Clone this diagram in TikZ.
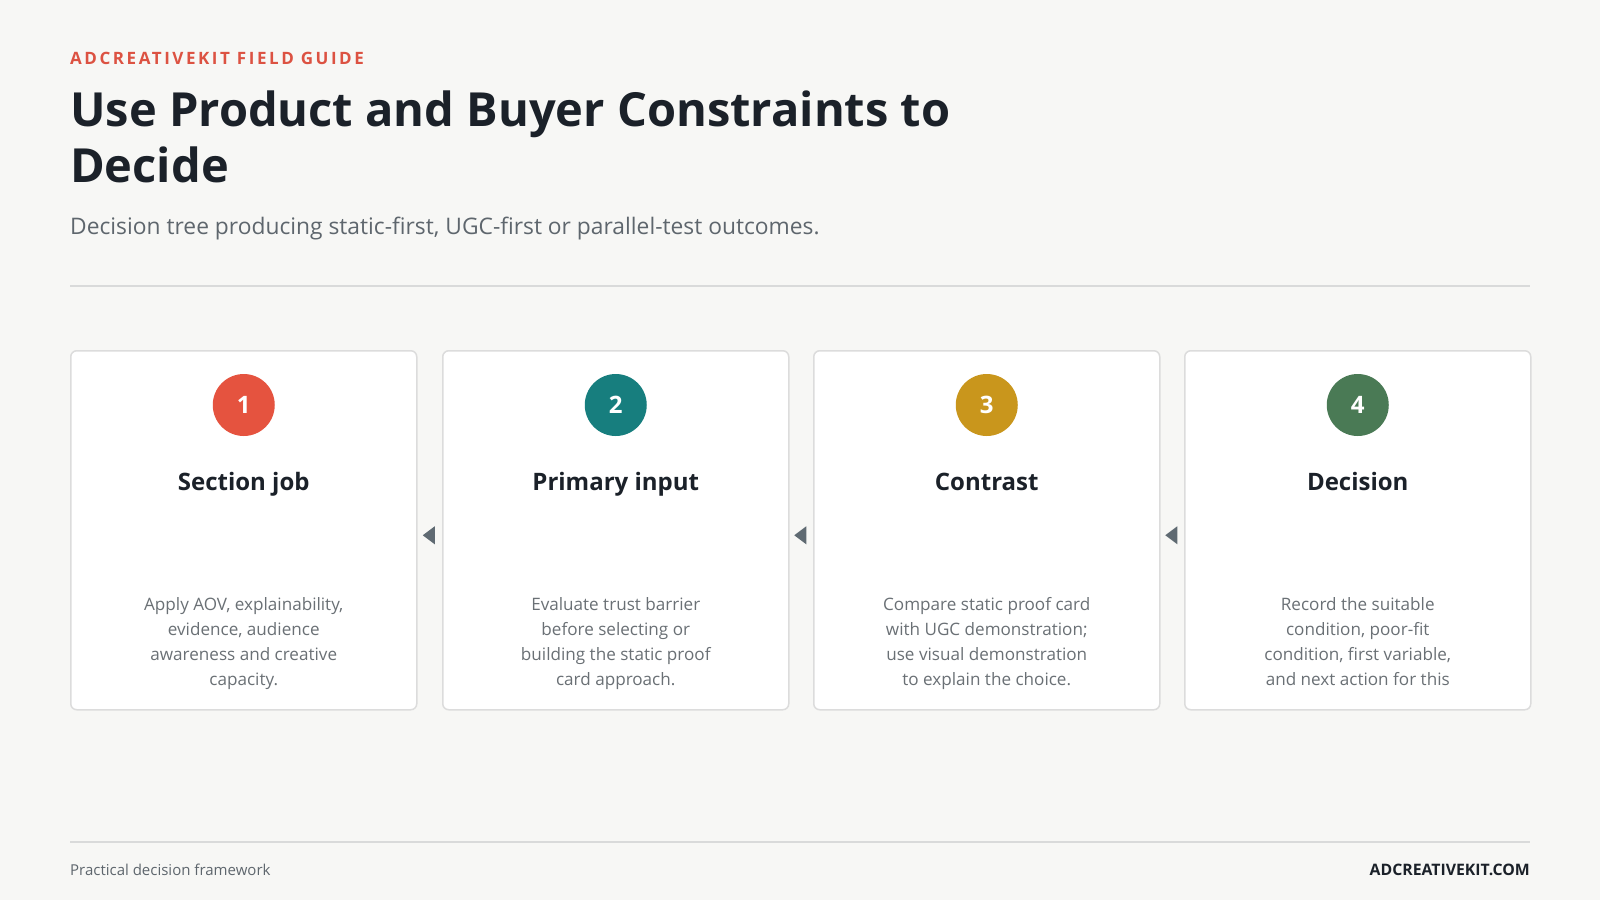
\documentclass[tikz,border=0pt]{standalone}
\usepackage{fontspec}
\setmainfont{Open Sans}
\usetikzlibrary{positioning,calc}
\definecolor{pagebg}{HTML}{F7F7F5}
\definecolor{kickred}{HTML}{DC5242}
\definecolor{ink}{HTML}{1B2129}
\definecolor{subgray}{HTML}{5E666D}
\definecolor{rulegray}{HTML}{D9DADA}
\definecolor{cardline}{HTML}{DCDCDC}
\definecolor{bodygray}{HTML}{6A7075}
\definecolor{tipgray}{HTML}{5F6A72}
\definecolor{numred}{HTML}{E5533F}
\definecolor{numteal}{HTML}{177E7E}
\definecolor{numgold}{HTML}{C9961C}
\definecolor{numgreen}{HTML}{4A7A55}
\tikzset{
  card/.style={draw=cardline, line width=1.5pt, fill=white, rounded corners=6pt,
    minimum width=346pt, minimum height=359pt, anchor=north west, inner sep=0pt},
  numdot/.style={circle, minimum size=62pt, inner sep=0pt, text=white,
    font=\bfseries\fontsize{24}{28}\selectfont},
  cardhead/.style={anchor=base, text=ink, font=\bfseries\fontsize{24}{28}\selectfont},
  cardbody/.style={anchor=north, align=center, inner sep=0pt, text=bodygray,
    font=\fontsize{17.1}{25}\selectfont}
}
\begin{document}
\begin{tikzpicture}[x=1pt,y=-1pt]
        \useasboundingbox[fill=pagebg] (0,0) rectangle (1600,900);
        %% header
        \node[anchor=base west, inner sep=0pt, text=kickred,
              font=\bfseries\fontsize{17}{20}\selectfont\addfontfeatures{LetterSpace=15}]
              (kicker) at (70,64) {ADCREATIVEKIT FIELD GUIDE};
        \node[anchor=base west, inner sep=0pt, text=ink, font=\bfseries\fontsize{47}{56}\selectfont]
              (title) at (70,126) {Use Product and Buyer Constraints to};
        \node[anchor=base west, inner sep=0pt, text=ink, font=\bfseries\fontsize{47}{56}\selectfont]
              (title2) at (70,182) {Decide};
        \node[anchor=base west, inner sep=0pt, text=subgray, font=\fontsize{22.8}{26}\selectfont]
              (sub) at (70,234) {Decision tree producing static-first, UGC-first or parallel-test outcomes.};
        \coordinate (ruleL) at (70,286);
        \coordinate (ruleR) at (1530,286);
        \draw[rulegray, line width=1.5pt] (ruleL) -- (ruleR);
        %% cards
        \foreach \i/\xx/\col/\head/\body in {
            1/70/numred/Section job/{Apply AOV, explainability,\\evidence, audience\\awareness and creative\\capacity.},
            2/442/numteal/Primary input/{Evaluate trust barrier\\before selecting or\\building the static proof\\card approach.},
            3/813/numgold/Contrast/{Compare static proof card\\with UGC demonstration;\\use visual demonstration\\to explain the choice.},
            4/1184/numgreen/Decision/{Record the suitable\\condition, poor-fit\\condition, first variable,\\and next action for this}}
        {
            \node[card] (card\i) at (\xx,350) {};
            \node[numdot, fill=\col] (num\i) at ($(card\i.north)+(0,55)$) {\i};
            \node[cardhead] (head\i) at ($(card\i.north)+(0,140)$) {\head};
            \node[cardbody] (body\i) at ($(card\i.north)+(0,247)$) {\body};
        }
        %% arrow tips between cards
        \foreach \i [evaluate=\i as \j using int(\i+1)] in {1,2,3}
        {
            \coordinate (gap\i) at ($(card\i.east)!0.5!(card\j.west)+(-1,5)$);
            \fill[tipgray] ($(gap\i)+(-6,0)$) -- ++(12,-9) -- ++(0,18) -- cycle;
        }
        %% footer
        \coordinate (footL) at (70,842);
        \coordinate (footR) at (1530,842);
        \draw[rulegray, line width=1.5pt] (footL) -- (footR);
        \node[anchor=base west, inner sep=0pt, text=subgray, font=\fontsize{15}{18}\selectfont]
              (footnote) at (70,875) {Practical decision framework};
        \node[anchor=base east, inner sep=0pt, text=ink, font=\bfseries\fontsize{15.8}{18}\selectfont]
              (site) at (1530,875) {ADCREATIVEKIT.COM};
\end{tikzpicture}
\end{document}
